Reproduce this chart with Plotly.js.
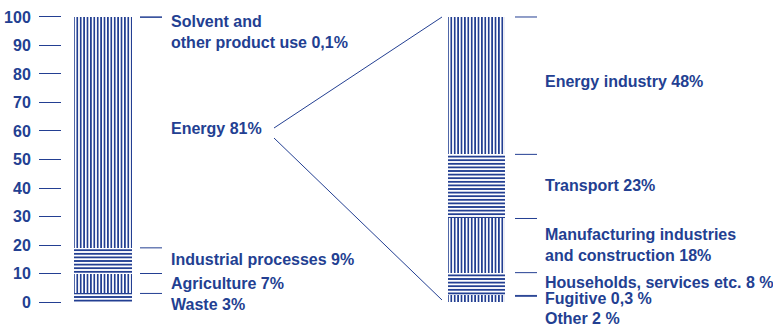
<!DOCTYPE html>
<html>
<head>
<meta charset="utf-8">
<script src="https://cdn.plot.ly/plotly-3.0.1.min.js"></script>
<style>
  body { margin: 0; background: #fff; }
  #plot { width: 773px; height: 326px; }
</style>
</head>
<body>
<div id="plot"></div>
<script>
// Emissions by sector, stacked bottom to top
let leftCategory = 'Total';
let leftNames = ['Waste', 'Agriculture', 'Industrial processes', 'Energy', 'Solvent and other product use'];
let leftValues = [3, 7, 9, 80.9, 0.1];
let leftLabels = ['Waste 3%', 'Agriculture 7%', 'Industrial processes 9%', 'Energy 81%', 'Solvent and<br>other product use 0,1%'];

let rightCategory = 'Energy';
let rightNames = ['Other', 'Fugitive', 'Households, services etc.', 'Manufacturing industries and construction', 'Transport', 'Energy industry'];
let rightValues = [2, 0.3, 8, 19, 22.5, 48.2];
let rightLabels = ['Other 2 %', 'Fugitive 0,3 %', 'Households, services etc. 8 %', 'Manufacturing industries<br>and construction 18%', 'Transport 23%', 'Energy industry 48%'];

let yTicks = [0, 10, 20, 30, 40, 50, 60, 70, 80, 90, 100];

// styling
let blue = '#233f92';
let leftShapes = ['-', '|', '-', '|', '|'];
let rightShapes = ['|', '|', '-', '|', '-', '|'];
let leftLabelY = [304, 283, 259, 129, 32];
let rightLabelY = [318, 298, 282, 245, 185, 81];

let W = 773, H = 326, ML = 62;
let px = x => (x - ML) / (W - ML);
let py = y => 1 - y / H;

function makeTrace(cat, name, value, shape) {
    return {
        x: [cat],
        y: [value],
        name: name,
        type: 'bar',
        width: 0.154,
        hoverinfo: 'skip',
        marker: {
            color: 'white',
            line: { width: 0 },
            pattern: {
                shape: shape,
                fgcolor: blue,
                bgcolor: 'white',
                size: shape === '|' ? 3.4 : 3.6,
                solidity: 0.5
            }
        }
    };
}

let data = [];
leftNames.forEach((n, i) => data.push(makeTrace(leftCategory, n, leftValues[i], leftShapes[i])));
rightNames.forEach((n, i) => data.push(makeTrace(rightCategory, n, rightValues[i], rightShapes[i])));

// short marker lines beside each segment top
let shapes = [];
function addMarkers(values, x0, x1) {
    let sum = 0;
    values.forEach(v => {
        sum += v;
        shapes.push({
            type: 'line', xref: 'paper', yref: 'y',
            x0: px(x0), x1: px(x1), y0: sum, y1: sum,
            line: { color: blue, width: 1 }
        });
    });
}
addMarkers(leftValues, 140, 162);
addMarkers(rightValues, 515, 537);

// connector lines from "Energy" to the breakdown bar
shapes.push({ type: 'line', xref: 'paper', yref: 'paper', x0: px(274), y0: py(128), x1: px(442), y1: py(17), line: { color: blue, width: 1 } });
shapes.push({ type: 'line', xref: 'paper', yref: 'paper', x0: px(274), y0: py(138), x1: px(442), y1: py(300), line: { color: blue, width: 1 } });

let labelFont = { family: 'Liberation Sans, Arial, sans-serif', size: 16, color: blue, weight: 700 };
let annotations = [];
leftLabels.forEach((t, i) => annotations.push({
    text: t, xref: 'paper', yref: 'paper', x: px(170), y: py(leftLabelY[i]),
    xanchor: 'left', yanchor: 'middle', align: 'left', showarrow: false, borderpad: 0, font: labelFont
}));
rightLabels.forEach((t, i) => annotations.push({
    text: t, xref: 'paper', yref: 'paper', x: px(544), y: py(rightLabelY[i]),
    xanchor: 'left', yanchor: 'middle', align: 'left', showarrow: false, borderpad: 0, font: labelFont
}));

let layout = {
    width: W,
    height: H,
    margin: { l: ML, r: 0, t: 0, b: 0 },
    barmode: 'stack',
    showlegend: false,
    paper_bgcolor: 'white',
    plot_bgcolor: 'white',
    xaxis: {
        type: 'category',
        categoryarray: [leftCategory, rightCategory],
        range: [-0.10977, 1.79384],
        visible: false,
        fixedrange: true
    },
    yaxis: {
        range: [-8.42, 105.96],
        tickvals: yTicks,
        ticktext: yTicks.map(String),
        ticks: 'outside',
        ticklen: 22,
        tickwidth: 1,
        tickcolor: blue,
        ticklabelstandoff: 5,
        showgrid: false,
        zeroline: false,
        showline: false,
        tickfont: labelFont,
        fixedrange: true
    },
    shapes: shapes,
    annotations: annotations
};

Plotly.newPlot('plot', data, layout, { displayModeBar: false, staticPlot: true });
</script>
</body>
</html>
